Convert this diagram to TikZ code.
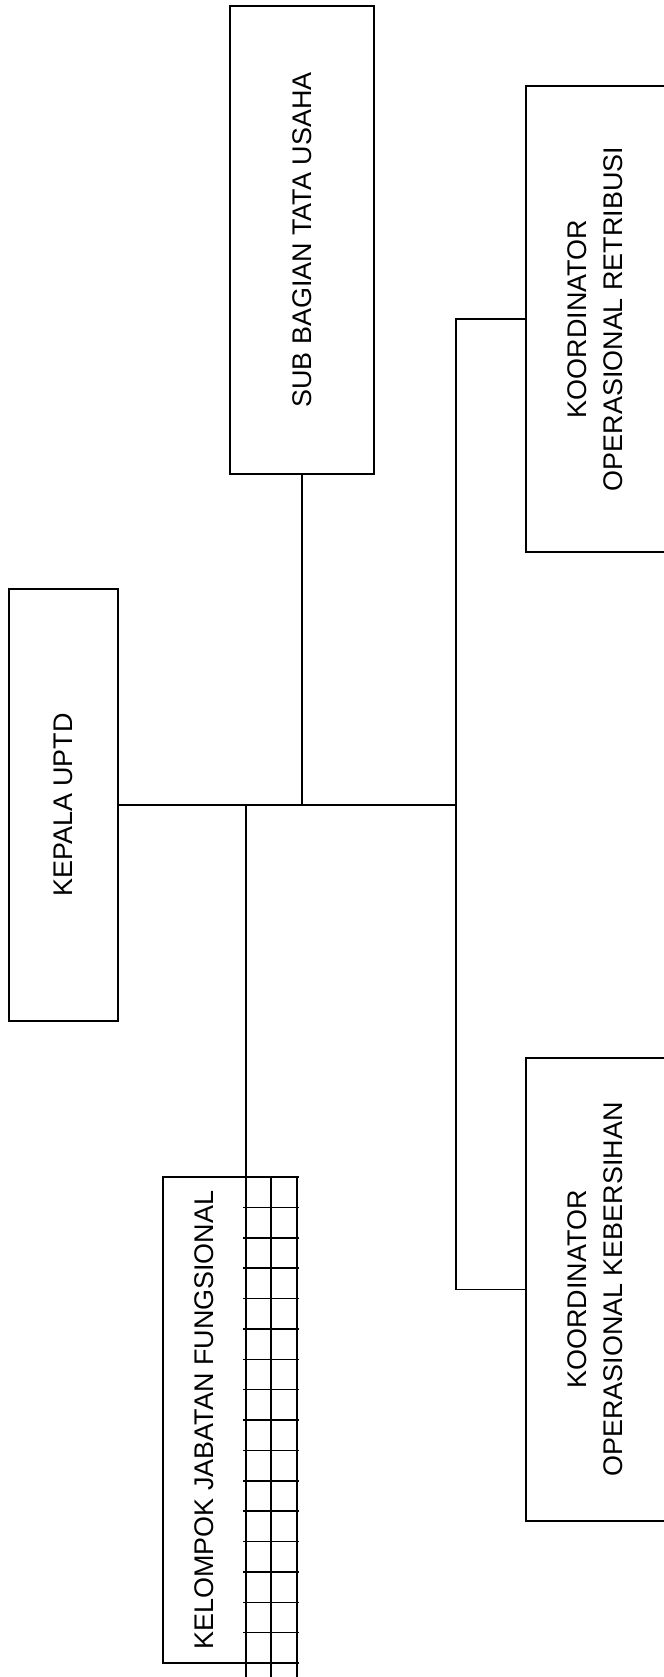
\documentclass[tikz,border=0pt]{standalone}
\usepackage{fontspec}
\setmainfont{Liberation Sans}
\usetikzlibrary{positioning}

\begin{document}
\begin{tikzpicture}[
    x=0.3mm, y=-0.3mm,
    box/.style={draw, line width=1.3pt, rotate=90, align=center, inner sep=0pt,
      font=\fontsize{23}{31}\selectfont},
    link/.style={line width=1.2pt},
    gridline/.style={line width=1.3pt}
  ]
    \useasboundingbox (0,0) rectangle (663,1677);
    \node[box, minimum width=129.6mm, minimum height=32.7mm] (kepala) at (63.5,805) {KEPALA UPTD};
    \node[box, minimum width=140.4mm, minimum height=43.2mm] (subtu) at (302,240) {SUB BAGIAN TATA USAHA};
    \node[box, minimum width=139.8mm, minimum height=41.7mm] (retri) at (595.5,319) {KOORDINATOR\\OPERASIONAL RETRIBUSI};
    \node[box, minimum width=138.9mm, minimum height=41.7mm] (bersih) at (595.5,1289.5) {KOORDINATOR\\OPERASIONAL KEBERSIHAN};
    \node[box, minimum width=145.8mm, minimum height=24.9mm] (kjf) at (204.5,1420) {KELOMPOK JABATAN FUNGSIONAL};
    \coordinate (hub) at (456,805);
    \coordinate (kjfhub) at (246,805);
    \draw[link] (kepala) -- (kepala -| hub);
    \draw[link] (subtu) -- (subtu |- hub);
    \draw[link] (retri) -| (hub);
    \draw[link] (hub) |- (bersih);
    \draw[link] (kjfhub) -- (kjfhub |- kjf.east);
    % grid beside the functional group
    \foreach \gx in {246,271,297}
      \draw[gridline] (\gx,1177) -- (\gx,1677);
    \foreach \i in {0,...,16}
      \draw[gridline] ({243},{1177+\i*30.375}) -- ({299},{1177+\i*30.375});
  \end{tikzpicture}
\end{document}
